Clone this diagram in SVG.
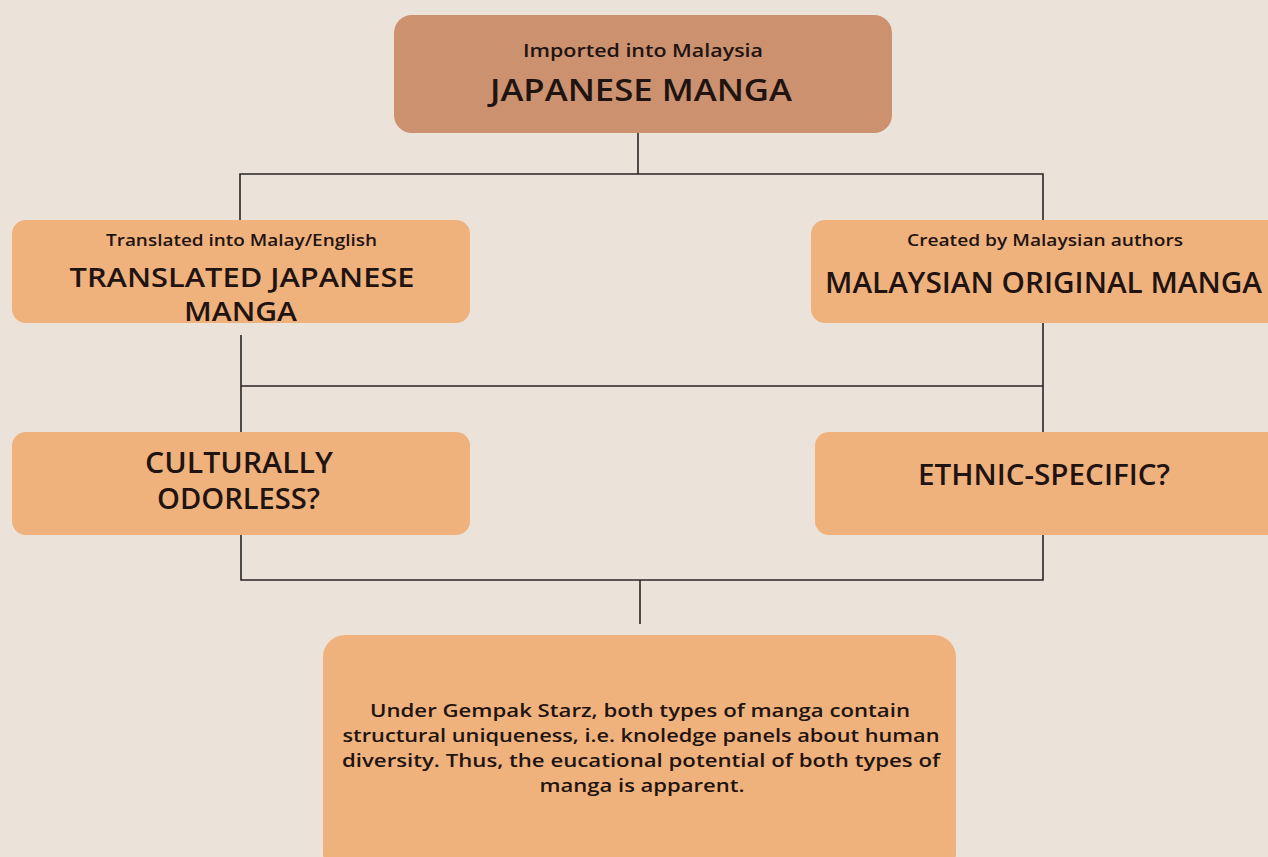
<svg xmlns="http://www.w3.org/2000/svg" width="1268" height="857" viewBox="0 0 1268 857">
<style>
.bg{fill:#ebe2da}
.top{fill:#cc916e}
.box{fill:#f0b27d}
.ln{stroke:#2a2624;stroke-width:1.6;fill:none}
text{font-family:"Open Sans","Liberation Sans",sans-serif;fill:#1f1411;text-anchor:middle;font-weight:600}
.sm{font-size:16.5px}
.big{font-size:28px}
.body{font-size:18px}
</style>
<rect class="bg" x="0" y="0" width="1268" height="857"/>
<g id="connectors">
<path class="ln" d="M638 133 V174 M240 222 V174 H1043 V222"/>
<path class="ln" d="M241 335 V432 M241 386 H1043 M1043 322 V432"/>
<path class="ln" d="M241 534 V580 H1043 V534 M640 580 V624"/>
</g>
<g id="n-japanese">
<rect class="top" x="394" y="15" width="498" height="118" rx="18"/>
<text class="sm" x="643" y="57" style="font-size:18px" textLength="240" lengthAdjust="spacingAndGlyphs">Imported into Malaysia</text>
<text class="big" x="641" y="101" style="font-size:31px" textLength="302" lengthAdjust="spacingAndGlyphs">JAPANESE MANGA</text>
</g>
<g id="n-translated">
<rect class="box" x="12" y="220" width="458" height="103" rx="14"/>
<text class="sm" x="241.5" y="246" textLength="271" lengthAdjust="spacingAndGlyphs">Translated into Malay/English</text>
<text class="big" x="242" y="287" style="font-size:27px" textLength="345" lengthAdjust="spacingAndGlyphs">TRANSLATED JAPANESE</text>
<text class="big" x="240.5" y="321" style="font-size:27px" textLength="113" lengthAdjust="spacingAndGlyphs">MANGA</text>
</g>
<g id="n-malaysian">
<rect class="box" x="811" y="220" width="470" height="103" rx="14"/>
<text class="sm" x="1045" y="246" textLength="276" lengthAdjust="spacingAndGlyphs">Created by Malaysian authors</text>
<text class="big" x="1043.5" y="293" textLength="437" lengthAdjust="spacingAndGlyphs">MALAYSIAN ORIGINAL MANGA</text>
</g>
<g id="n-odorless">
<rect class="box" x="12" y="432" width="458" height="103" rx="14"/>
<text class="big" x="239" y="473" textLength="188" lengthAdjust="spacingAndGlyphs">CULTURALLY</text>
<text class="big" x="238.5" y="509" textLength="163" lengthAdjust="spacingAndGlyphs">ODORLESS?</text>
</g>
<g id="n-ethnic">
<rect class="box" x="815" y="432" width="466" height="103" rx="14"/>
<text class="big" x="1044" y="485" textLength="252" lengthAdjust="spacingAndGlyphs">ETHNIC-SPECIFIC?</text>
</g>
<g id="n-conclusion">
<rect class="box" x="323" y="635" width="633" height="240" rx="22"/>
<text class="body" x="640" y="717" textLength="540" lengthAdjust="spacingAndGlyphs">Under Gempak Starz, both types of manga contain</text>
<text class="body" x="641" y="742" textLength="597" lengthAdjust="spacingAndGlyphs">structural uniqueness, i.e. knoledge panels about human</text>
<text class="body" x="641" y="767" textLength="598" lengthAdjust="spacingAndGlyphs">diversity. Thus, the eucational potential of both types of</text>
<text class="body" x="642" y="792" textLength="205" lengthAdjust="spacingAndGlyphs">manga is apparent.</text>
</g>
</svg>
